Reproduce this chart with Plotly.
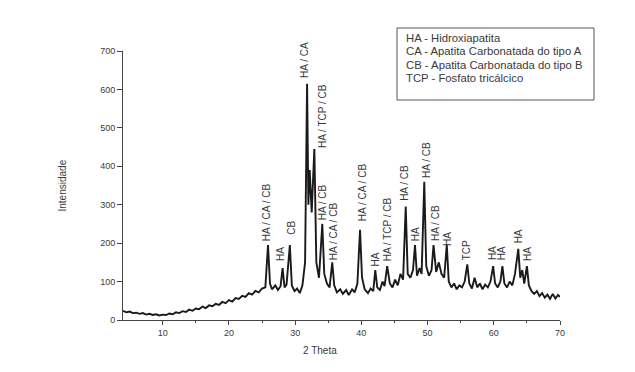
import plotly.graph_objects as go

# ---- data ----
two_theta = [
    4.0, 4.5, 5.0, 5.5, 6.0, 6.5, 7.0, 7.5, 8.0, 8.5, 9.0, 9.5, 10.0, 10.5, 11.0, 11.5,
    12.0, 12.5, 13.0, 13.5, 14.0, 14.5, 15.0, 15.5, 16.0, 16.5, 17.0, 17.5, 18.0, 18.5,
    19.0, 19.5, 20.0, 20.5, 21.0, 21.5, 22.0, 22.5, 23.0, 23.5, 24.0, 24.5, 25.0, 25.5,
    25.9, 26.2, 26.5, 27.0, 27.4, 27.8, 28.1, 28.4, 28.7, 29.2, 29.5, 29.9, 30.3, 30.7,
    31.1, 31.5, 31.8, 32.0, 32.2, 32.5, 32.9, 33.2, 33.6, 34.1, 34.4, 34.8, 35.2, 35.6,
    35.9, 36.3, 36.8, 37.2, 37.7, 38.1, 38.6, 39.0, 39.4, 39.8, 40.1, 40.5, 41.0, 41.4,
    41.8, 42.1, 42.4, 42.8, 43.2, 43.5, 43.9, 44.3, 44.7, 45.1, 45.5, 45.9, 46.3, 46.7,
    47.0, 47.4, 47.8, 48.1, 48.4, 48.8, 49.1, 49.5, 49.8, 50.2, 50.6, 50.9, 51.3, 51.7,
    52.1, 52.5, 52.9, 53.2, 53.6, 54.0, 54.4, 54.8, 55.2, 55.6, 56.0, 56.3, 56.7, 57.1,
    57.5, 57.9, 58.3, 58.7, 59.1, 59.5, 59.9, 60.2, 60.6, 61.0, 61.3, 61.6, 62.0, 62.4,
    62.8, 63.2, 63.7, 64.0, 64.3, 64.6, 65.0, 65.3, 65.7, 66.1, 66.5, 66.9, 67.3, 67.7,
    68.1, 68.5, 68.9, 69.3, 69.7, 70.0,
]
intensity = [
    24, 20, 22, 18, 19, 16, 18, 14, 16, 13, 15, 12, 14, 13, 17, 15,
    20, 18, 23, 21, 27, 24, 30, 28, 35, 31, 38, 36, 42, 39,
    47, 44, 52, 48, 57, 55, 63, 60, 70, 66, 76, 72, 82, 85,
    195, 95, 80, 90, 78, 88, 135, 85, 92, 195, 90, 75, 82, 70,
    90, 150, 615, 300, 390, 280, 445, 150, 110, 250, 120, 95, 85, 150,
    90, 72, 80, 68, 78, 65, 80, 72, 95, 235, 110, 80, 70, 82,
    75, 130, 85, 78, 100, 88, 140, 95, 85, 105, 90, 120, 105, 295,
    120, 110, 130, 195, 115, 135, 120, 360, 140, 115, 130, 195, 125, 150,
    120, 110, 195, 100, 85, 95, 80, 90, 85, 100, 145, 95, 82, 110,
    85, 95, 80, 92, 85, 100, 140, 95, 85, 100, 140, 95, 85, 100,
    90, 120, 185, 110, 130, 95, 140, 90, 75, 68, 75, 62, 70, 58,
    66, 55, 68, 56, 65, 60,
]

label_text = [
    "HA / CA / CB", "HA", "CB", "HA / CA", "HA / TCP / CB", "HA / CB", "HA / CA / CB",
    "HA / CA / CB", "HA", "HA / TCP / CB", "HA / CB", "HA", "HA / CB", "HA / CB", "HA",
    "TCP", "HA", "HA", "HA", "HA",
]
label_x = [25.6, 27.7, 29.5, 31.5, 34.1, 34.1, 35.9, 40.1, 42.1, 43.9, 46.6, 48.1,
           49.8, 51.1, 52.9, 56.0, 59.9, 61.3, 63.7, 65.0]
label_y = [200, 148, 216, 625, 443, 255, 151, 252, 135, 148, 305, 200, 365, 200, 187,
           151, 151, 151, 195, 148]

legend_lines = [
    "HA - Hidroxiapatita",
    "CA - Apatita Carbonatada do tipo A",
    "CB - Apatita Carbonatada do tipo B",
    "TCP - Fosfato tricálcico",
]

x_ticks = [10, 20, 30, 40, 50, 60, 70]
y_ticks = [0, 100, 200, 300, 400, 500, 600, 700]

FONT = "Liberation Sans, Arial, sans-serif"
TXT = "#3a3a3a"

fig = go.Figure()
fig.add_trace(go.Scatter(
    x=two_theta, y=intensity, mode="lines",
    line=dict(color="#1a1a1a", width=1.9),
    showlegend=False, hoverinfo="x+y",
))

annotations = []
for t, xx, yy in zip(label_text, label_x, label_y):
    annotations.append(dict(
        x=xx, y=yy, xref="x", yref="y", text=t, showarrow=False,
        textangle=-90, xanchor="center", yanchor="bottom",
        font=dict(family=FONT, size=10, color=TXT),
    ))

for i, line in enumerate(legend_lines):
    annotations.append(dict(
        x=(404 - 123) / 437, y=(320 - (38 + 13.4 * i)) / 269, xref="paper", yref="paper",
        xanchor="left", yanchor="middle", align="left", showarrow=False,
        text=line, font=dict(family=FONT, size=11.3, color=TXT),
    ))

# axis titles
annotations.append(dict(
    x=-61 / 437, y=0.5, xref="paper", yref="paper", text="Intensidade",
    textangle=-90, showarrow=False, xanchor="center", yanchor="middle",
    font=dict(family=FONT, size=10, color=TXT),
))
annotations.append(dict(
    x=(320 - 123) / 437, y=-30 / 269, xref="paper", yref="paper", text="2 Theta",
    showarrow=False, xanchor="center", yanchor="middle",
    font=dict(family=FONT, size=10, color=TXT),
))

fig.update_layout(
    width=635, height=372,
    margin=dict(l=123, r=75, t=51, b=52),
    paper_bgcolor="white", plot_bgcolor="white",
    annotations=annotations,
    shapes=[dict(
        type="rect", xref="paper", yref="paper",
        x0=(397 - 123) / 437, x1=(594 - 123) / 437,
        y0=(320 - 100) / 269, y1=(320 - 28) / 269,
        line=dict(color="#555", width=1), fillcolor="rgba(0,0,0,0)",
    )],
    font=dict(family=FONT, color=TXT),
)
fig.update_xaxes(
    range=[4, 70], tickvals=x_ticks, ticks="outside", ticklen=4, tickwidth=1,
    tickcolor="#444", showline=True, linecolor="#444", linewidth=1,
    showgrid=False, zeroline=False, tickfont=dict(family=FONT, size=9, color=TXT),
    minor=dict(tickvals=[15, 25, 35, 45, 55, 65], ticks="outside", ticklen=2,
               tickcolor="#444"),
)
fig.update_yaxes(
    range=[0, 700], tickvals=y_ticks, ticks="outside", ticklen=5, tickwidth=1,
    tickcolor="#444", showline=True, linecolor="#444", linewidth=1,
    showgrid=False, zeroline=False, tickfont=dict(family=FONT, size=9, color=TXT),
)

fig.write_html("out.html")
